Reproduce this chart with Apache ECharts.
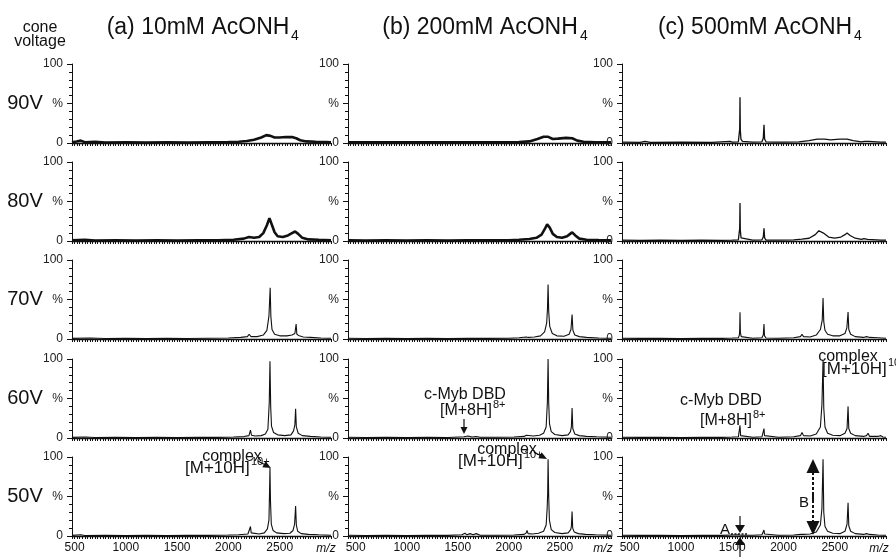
<!DOCTYPE html>
<html>
<head>
<meta charset="utf-8">
<script src="https://cdn.jsdelivr.net/npm/echarts@6/dist/echarts.min.js"></script>
<style>
  html, body { margin: 0; background: #fff; }
  #chart { width: 896px; height: 557px; }
</style>
</head>
<body>
<div id="chart"></div>
<script>
// column titles / row labels / tick labels
const columnTitles = ['(a) 10mM AcONH', '(b) 200mM AcONH', '(c) 500mM AcONH']
const voltages = ['90V', '80V', '70V', '60V', '50V']
const xTickLabels = [500, 1000, 1500, 2000, 2500]

// spectra, [m/z, %]
// (a) 10mM
const a90 = [[475,1],[520,2],[560,3],[600,1],[700,1.5],[800,0.6],[1000,1],[1200,0.7],[1400,1],[1600,0.7],[1800,1],[2000,1.2],[2100,1.5],[2180,2.5],[2250,4],[2320,7],[2370,10],[2410,9],[2450,7],[2500,7],[2560,7.5],[2620,7.5],[2660,6],[2700,3.5],[2760,2],[2850,1.5],[2950,1.2],[3000,1]]
const a80 = [[475,1],[600,1.5],[700,0.7],[900,1],[1100,0.7],[1300,1],[1500,0.7],[1700,1],[1900,1],[2050,1.5],[2150,3],[2200,5],[2250,4],[2300,5],[2340,10],[2375,20],[2400,29],[2425,20],[2450,11],[2480,6],[2530,5],[2580,7],[2620,10],[2650,12],[2680,9],[2720,4],[2780,2],[2880,1.5],[3000,1]]
const a70 = [[475,0.8],[650,1.2],[800,0.6],[1000,1],[1200,0.7],[1400,1],[1600,0.7],[1800,1],[2000,1.2],[2120,2],[2185,3],[2202,6],[2220,3],[2280,3],[2340,5],[2375,11],[2395,29],[2407,65],[2414,28],[2425,12],[2450,6],[2500,4],[2570,4],[2620,5],[2648,7],[2660,19],[2667,6],[2690,4],[2730,2.5],[2800,2],[2900,1.2],[3000,1]]
const a60 = [[475,0.8],[600,1.2],[700,0.6],[900,1],[1100,0.7],[1300,1],[1500,0.7],[1700,1],[1900,0.8],[2050,1.2],[2150,1.8],[2200,3],[2215,10],[2225,3.5],[2260,2.5],[2320,3],[2360,5],[2385,11],[2398,45],[2405,97],[2412,40],[2420,15],[2440,7],[2480,4],[2550,3],[2610,4],[2635,9],[2648,17],[2655,37],[2662,14],[2680,6],[2720,3],[2800,2],[2900,1.2],[3000,1]]
const a50 = [[475,0.8],[560,1.5],[600,0.6],[800,1],[1000,0.7],[1200,1],[1400,0.7],[1600,1],[1800,0.8],[2000,1.2],[2100,1.5],[2190,2.5],[2205,5],[2215,12],[2222,4],[2240,2.5],[2300,2.5],[2350,4],[2380,9],[2395,20],[2400,50],[2405,86],[2410,45],[2418,15],[2435,7],[2470,4],[2540,3],[2600,3.5],[2630,7],[2645,15],[2655,38],[2662,14],[2675,6],[2710,3],[2780,2],[2880,1.5],[3000,1]]
// (b) 200mM
const b90 = [[425,1],[700,0.8],[1000,1],[1400,0.8],[1800,1],[2100,1.2],[2200,2],[2280,5],[2340,8],[2380,8],[2430,5],[2480,5.5],[2560,6.5],[2620,6],[2670,3],[2730,1.5],[2850,1],[3000,1]]
const b80 = [[425,1],[600,0.7],[800,1],[1000,0.7],[1200,1],[1400,0.7],[1600,1],[1800,0.8],[2000,1],[2100,1.5],[2200,2.5],[2270,4],[2320,8],[2355,16],[2375,21],[2400,17],[2430,9],[2470,5],[2520,4],[2570,6],[2600,9],[2620,11],[2650,7],[2690,3],[2760,1.5],[2880,1.2],[3000,1]]
const b70 = [[425,1],[600,0.7],[800,1],[1000,0.7],[1200,1],[1400,0.7],[1600,1],[1800,0.8],[2000,1],[2100,1.5],[2170,2.5],[2178,4],[2190,2],[2250,2.5],[2310,4],[2350,9],[2370,20],[2378,38],[2384,69],[2390,35],[2400,16],[2425,7],[2470,4],[2540,3.5],[2590,6],[2608,12],[2619,31],[2627,11],[2645,5],[2690,3],[2760,2],[2880,1.2],[3000,1]]
const b60 = [[425,1],[600,0.7],[800,1],[1000,0.7],[1200,1],[1400,0.7],[1560,1.5],[1600,2.5],[1640,1.2],[1680,2],[1720,1],[1900,1],[2050,1.2],[2150,2],[2170,3.5],[2178,6],[2188,2.5],[2240,2.5],[2300,3.5],[2340,6],[2365,14],[2377,45],[2384,100],[2390,45],[2398,18],[2415,8],[2450,4.5],[2520,3],[2580,4],[2603,8],[2612,14],[2619,38],[2626,12],[2645,5],[2690,3],[2760,2],[2860,1.5],[3000,1]]
const b50 = [[425,1],[600,0.7],[800,1],[1000,0.7],[1200,1],[1400,0.8],[1540,1.5],[1570,3.5],[1590,1.5],[1620,3],[1650,1.5],[1680,3],[1720,1],[1900,1],[2050,1.2],[2150,2],[2170,4],[2178,7],[2188,3],[2230,2.5],[2290,3.5],[2340,6],[2365,14],[2375,35],[2380,54],[2384,97],[2390,50],[2397,20],[2415,8],[2450,4.5],[2520,3],[2580,4],[2605,8],[2612,12],[2619,31],[2625,10],[2640,5],[2680,3],[2750,2],[2850,1.5],[3000,1]]
// (c) 500mM
const c90 = [[425,1],[600,0.8],[650,2],[700,0.8],[1000,1],[1300,0.8],[1480,2],[1500,1],[1560,1.5],[1568,3],[1573,18],[1576,58],[1579,16],[1585,5],[1600,2],[1700,1.2],[1790,1.5],[1803,6],[1810,23],[1816,5],[1830,1.5],[1900,1],[2000,1],[2150,1.5],[2250,3],[2330,5],[2400,5],[2460,4],[2550,5],[2620,5],[2680,3],[2760,1.5],[2790,2],[2805,4],[2830,2],[2950,1],[3000,1]]
const c80 = [[425,1],[600,0.8],[800,1],[1000,0.7],[1200,1],[1400,0.8],[1500,1.2],[1560,1.5],[1568,4],[1573,16],[1576,48],[1579,14],[1586,4],[1600,1.5],[1700,1],[1790,1.5],[1803,5],[1810,16],[1816,4],[1830,1.2],[1950,1],[2100,1.5],[2180,2.5],[2250,3.5],[2310,8],[2345,13],[2360,14],[2390,10],[2440,5],[2500,3.5],[2560,5],[2600,8],[2620,10],[2650,7],[2700,3.5],[2760,2],[2785,3],[2800,5],[2820,2],[2950,1.2],[3000,1]]
const c70 = [[425,1],[600,0.8],[800,1],[1000,0.7],[1200,1],[1400,0.8],[1500,1.2],[1560,1.5],[1570,5],[1573,12],[1576,34],[1580,8],[1588,3],[1600,1.2],[1700,1],[1790,1.5],[1803,5],[1810,19],[1815,4],[1830,1.2],[1950,1],[2100,1.5],[2165,3],[2181,6],[2195,3],[2260,2.5],[2320,5],[2360,12],[2378,24],[2386,52],[2393,22],[2405,11],[2430,6],[2480,4],[2550,4],[2600,7],[2618,14],[2630,34],[2637,12],[2655,6],[2700,3],[2780,2],[2810,3],[2825,5],[2840,2],[2920,1.5],[3000,1]]
const c60 = [[425,1],[600,0.8],[800,1],[1000,0.7],[1200,1],[1400,0.8],[1500,1.2],[1560,1.5],[1570,4],[1576,16],[1582,3],[1600,1.2],[1700,1],[1790,1.5],[1805,4],[1810,12],[1815,3],[1830,1.2],[1950,1],[2100,1.5],[2165,3],[2181,7],[2195,3],[2260,2.5],[2320,5],[2360,14],[2375,42],[2386,98],[2393,38],[2405,14],[2430,6],[2480,3.5],[2550,3],[2600,6],[2620,12],[2630,40],[2637,12],[2655,6],[2700,3],[2780,2],[2810,3],[2825,6],[2840,2],[2920,2],[2950,3],[2970,1.2],[3000,1]]
const c50 = [[425,1],[600,0.8],[800,1],[1000,0.7],[1200,1],[1400,0.8],[1560,1.5],[1576,3],[1590,1],[1700,1],[1790,1.5],[1805,3],[1810,7.5],[1815,2.5],[1830,1.2],[1950,1],[2100,1.2],[2170,2],[2181,3.5],[2195,2],[2260,2.5],[2320,5],[2360,14],[2375,35],[2386,97],[2393,30],[2405,12],[2430,6],[2480,3.5],[2550,3],[2600,6],[2620,15],[2630,42],[2637,13],[2655,6],[2700,3],[2780,2],[2810,3],[2825,4],[2840,2],[2920,1.2],[3000,1]]

const spectra = [
  [a90, b90, c90],
  [a80, b80, c80],
  [a70, b70, c70],
  [a60, b60, c60],
  [a50, b50, c50]
]

// layout
const colLeft = [72, 348, 622]
const colWidth = [259, 263, 264]
const colMin = [475, 425, 425]
const rowTop = [64, 162, 260, 359, 457]
const rowHeight = 79
const lineWidths = [
  [2.6, 2.6, 1.3],
  [2.6, 2.6, 1.3],
  [1.1, 1.1, 1.1],
  [1.1, 1.1, 1.1],
  [1.1, 1.1, 1.1]
]
const FONT = '"Liberation Sans", Arial, Helvetica, sans-serif'
const INK = '#111'

const grid = [], xAxis = [], yAxis = [], series = []
for (let r = 0; r < 5; r++) {
  for (let c = 0; c < 3; c++) {
    const i = r * 3 + c
    grid.push({ left: colLeft[c], top: rowTop[r], width: colWidth[c], height: rowHeight })
    xAxis.push({
      gridIndex: i, type: 'value', min: colMin[c], max: 3000, interval: 25,
      axisLine: { show: true, onZero: false, lineStyle: { color: INK, width: 1.4 } },
      axisTick: { show: true, length: 3, lineStyle: { color: INK, width: 1 } },
      axisLabel: {
        show: r === 4, margin: 6, color: INK, fontSize: 12, fontFamily: FONT,
        formatter: v => xTickLabels.includes(v) ? String(v) : ''
      },
      splitLine: { show: false }
    })
    yAxis.push({
      gridIndex: i, type: 'value', min: 0, max: 100, interval: 50,
      axisLine: { show: true, lineStyle: { color: INK, width: 1 } },
      axisTick: { show: true, length: 5, lineStyle: { color: INK } },
      minorTick: { show: true, splitNumber: 5, length: 3, lineStyle: { color: INK } },
      axisLabel: {
        margin: 9, color: '#222', fontSize: 12, fontFamily: FONT,
        formatter: v => v === 100 ? '100' : v === 50 ? '%' : v === 0 ? '0' : ''
      },
      splitLine: { show: false },
      minorSplitLine: { show: false }
    })
    series.push({
      type: 'line', xAxisIndex: i, yAxisIndex: i,
      data: spectra[r][c], symbol: 'none', silent: true,
      lineStyle: { color: INK, width: lineWidths[r][c] }
    })
  }
}

// text + annotation helpers
function txt(x, y, s, size, extra) {
  return {
    type: 'text', x, y, silent: true,
    style: Object.assign({ text: s, fill: INK, font: size + 'px ' + FONT, textAlign: 'center', textVerticalAlign: 'middle' }, extra || {})
  }
}
function arrow(x1, y1, x2, y2, len, hw, dash) {
  const d = Math.hypot(x2 - x1, y2 - y1), ux = (x2 - x1) / d, uy = (y2 - y1) / d
  const bx = x2 - ux * len, by = y2 - uy * len
  return [
    { type: 'line', silent: true, shape: { x1, y1, x2: bx, y2: by }, style: { stroke: INK, lineWidth: dash ? 2 : 1.2, lineDash: dash || null } },
    { type: 'polygon', silent: true, shape: { points: [[x2, y2], [bx - uy * hw, by + ux * hw], [bx + uy * hw, by - ux * hw]] }, style: { fill: INK } }
  ]
}

const graphic = [
  txt(40, 28, 'cone', 16),
  txt(40, 42, 'voltage', 16)
]
const titleCenter = [198, 480, 755]
const subX = [291, 580, 854]
columnTitles.forEach((t, c) => {
  graphic.push(txt(titleCenter[c], 28, t, 23))
  graphic.push(txt(subX[c], 36, '4', 14, { textAlign: 'left' }))
})
voltages.forEach((v, r) => graphic.push(txt(25, rowTop[r] + 39, v, 20)))
;[326, 603, 879].forEach(x => graphic.push(txt(x, 549, 'm/z', 12, { font: 'italic 12px ' + FONT })))

// (a) 50V
graphic.push(txt(232, 457, 'complex', 16))
graphic.push(txt(185, 468, '[M+10H]', 17, { textAlign: 'left' }))
graphic.push(txt(251, 462, '10+', 11, { textAlign: 'left' }))
graphic.push(...arrow(258, 461, 271, 468, 8, 3.5))
// (b) 60V and 50V
graphic.push(txt(465, 395, 'c-Myb DBD', 16))
graphic.push(txt(440, 411, '[M+8H]', 16, { textAlign: 'left' }))
graphic.push(txt(493, 405, '8+', 11, { textAlign: 'left' }))
graphic.push(...arrow(464, 419, 464, 434, 7, 3.5))
graphic.push(txt(507, 450, 'complex', 16))
graphic.push(txt(458, 461, '[M+10H]', 17, { textAlign: 'left' }))
graphic.push(txt(524, 455, '10+', 11, { textAlign: 'left' }))
graphic.push(...arrow(534, 452, 547, 459, 8, 3.5))
// (c) 60V
graphic.push(txt(721, 401, 'c-Myb DBD', 16))
graphic.push(txt(700, 421, '[M+8H]', 16, { textAlign: 'left' }))
graphic.push(txt(753, 415, '8+', 11, { textAlign: 'left' }))
graphic.push(txt(848, 357, 'complex', 16))
graphic.push(txt(822, 369, '[M+10H]', 17, { textAlign: 'left' }))
graphic.push(txt(888, 363, '10+', 11, { textAlign: 'left' }))
// (c) 50V: A and B markers
graphic.push(txt(725, 530, 'A', 15))
graphic.push({ type: 'line', silent: true, shape: { x1: 731, y1: 534, x2: 748, y2: 534 }, style: { stroke: INK, lineWidth: 1.5, lineDash: [2, 1.5] } })
graphic.push(...arrow(740, 516, 740, 533, 8, 5))
graphic.push(...arrow(740, 557, 740, 537, 8, 5))
graphic.push(txt(804, 503, 'B', 15))
graphic.push(...arrow(813, 500, 813, 459, 14, 6.5, [3, 2]))
graphic.push(...arrow(813, 495, 813, 535, 14, 6.5, [3, 2]))

const chart = echarts.init(document.getElementById('chart'))
chart.setOption({
  animation: false,
  backgroundColor: '#fff',
  grid, xAxis, yAxis, series, graphic
})
</script>
</body>
</html>
